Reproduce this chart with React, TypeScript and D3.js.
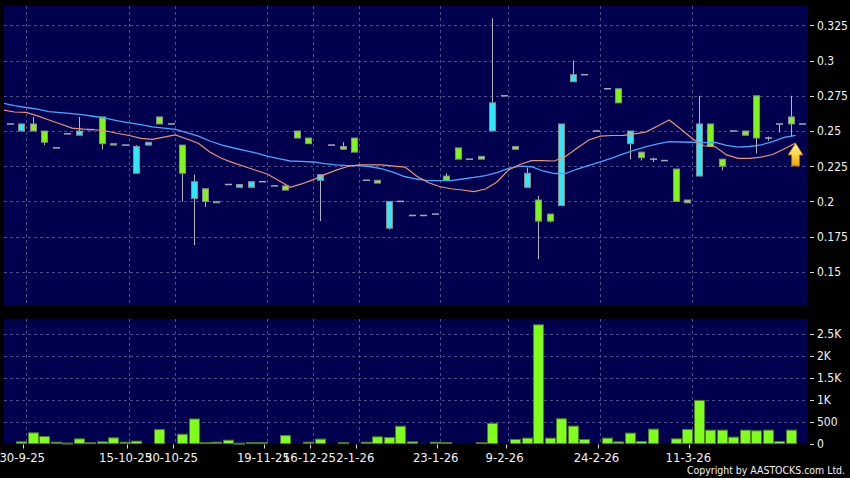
import React from 'react';
import * as d3 from 'd3';

// x axis: slot index of each labelled date
const tickSlots = [1, 10, 14, 22, 26, 30, 37, 43, 51, 59];
const tickLabels = ['30-9-25', '15-10-25', '30-10-25', '19-11-25', '16-12-25', '2-1-26', '23-1-26', '9-2-26', '24-2-26', '11-3-26'];

// daily OHLC, one entry per slot (70 slots)
const opens = [0.255, 0.25, 0.255, 0.25, 0.238, 0.248, 0.247, 0.251, 0.26, 0.241,
  0.24, 0.22, 0.24, 0.26, 0.255, 0.24, 0.202, 0.209, 0.2, 0.212,
  0.21, 0.21, 0.214, 0.211, 0.211, 0.25, 0.245, 0.215, 0.24, 0.239,
  0.245, 0.215, 0.215, 0.181, 0.2, 0.19, 0.19, 0.191, 0.218, 0.238,
  0.23, 0.232, 0.25, 0.275, 0.239, 0.21, 0.201, 0.191, 0.197, 0.285,
  0.29, 0.25, 0.28, 0.28, 0.241, 0.235, 0.23, 0.229, 0.223, 0.201,
  0.218, 0.255, 0.23, 0.25, 0.25, 0.275, 0.245, 0.255, 0.26, 0.255];
const highs = [0.255, 0.255, 0.26, 0.25, 0.238, 0.248, 0.26, 0.251, 0.26, 0.241,
  0.24, 0.24, 0.242, 0.26, 0.255, 0.24, 0.219, 0.209, 0.2, 0.212,
  0.212, 0.214, 0.214, 0.211, 0.211, 0.25, 0.245, 0.219, 0.24, 0.242,
  0.245, 0.215, 0.215, 0.2, 0.2, 0.19, 0.19, 0.191, 0.22, 0.238,
  0.23, 0.232, 0.33, 0.275, 0.239, 0.224, 0.204, 0.191, 0.255, 0.3,
  0.29, 0.25, 0.28, 0.28, 0.25, 0.235, 0.231, 0.229, 0.223, 0.201,
  0.275, 0.255, 0.23, 0.25, 0.25, 0.275, 0.246, 0.255, 0.275, 0.255];
const lows = [0.255, 0.25, 0.25, 0.24, 0.238, 0.248, 0.247, 0.251, 0.237, 0.24,
  0.24, 0.22, 0.24, 0.255, 0.255, 0.2, 0.169, 0.196, 0.199, 0.212,
  0.21, 0.21, 0.214, 0.211, 0.208, 0.245, 0.241, 0.186, 0.24, 0.237,
  0.235, 0.215, 0.213, 0.18, 0.2, 0.19, 0.19, 0.191, 0.215, 0.23,
  0.23, 0.23, 0.25, 0.275, 0.237, 0.21, 0.159, 0.185, 0.197, 0.285,
  0.29, 0.25, 0.28, 0.27, 0.23, 0.229, 0.228, 0.229, 0.2, 0.199,
  0.218, 0.239, 0.222, 0.25, 0.247, 0.234, 0.243, 0.249, 0.246, 0.255];
const closes = [0.255, 0.255, 0.25, 0.242, 0.238, 0.248, 0.25, 0.251, 0.241, 0.24,
  0.24, 0.239, 0.242, 0.255, 0.255, 0.22, 0.214, 0.2, 0.199, 0.212,
  0.212, 0.214, 0.214, 0.211, 0.208, 0.245, 0.241, 0.219, 0.24, 0.237,
  0.235, 0.215, 0.213, 0.2, 0.2, 0.19, 0.19, 0.191, 0.215, 0.23,
  0.23, 0.23, 0.27, 0.275, 0.237, 0.22, 0.186, 0.186, 0.255, 0.29,
  0.29, 0.25, 0.28, 0.27, 0.25, 0.231, 0.23, 0.229, 0.2, 0.199,
  0.255, 0.239, 0.225, 0.25, 0.247, 0.245, 0.245, 0.255, 0.255, 0.255];
const volumes = [0, 38, 243, 159, 30, 10, 106, 20, 38, 129,
  30, 53, 0, 318, 0, 212, 560, 20, 30, 76,
  8, 20, 20, 0, 182, 0, 30, 100, 0, 20,
  0, 30, 152, 136, 394, 38, 0, 30, 20, 0,
  0, 20, 459, 0, 92, 122, 2710, 122, 565, 397,
  92, 0, 122, 38, 237, 46, 328, 0, 107, 320,
  985, 305, 305, 145, 305, 290, 305, 46, 305, 0];

// moving averages as drawn, slots -1 .. 68
const ma10 = [0.2649, 0.2635, 0.2632, 0.2607, 0.2578, 0.255, 0.2521, 0.2514, 0.2509, 0.25,
  0.2482, 0.2468, 0.2448, 0.2441, 0.2457, 0.2472, 0.2443, 0.2413, 0.2351, 0.2306,
  0.2275, 0.2248, 0.2221, 0.2195, 0.2148, 0.21, 0.2124, 0.2155, 0.219, 0.2222,
  0.2248, 0.226, 0.226, 0.2259, 0.2251, 0.2244, 0.218, 0.2134, 0.2106, 0.209,
  0.2081, 0.207, 0.2088, 0.2138, 0.2223, 0.2262, 0.229, 0.2289, 0.2287, 0.232,
  0.2379, 0.2436, 0.2464, 0.2468, 0.2469, 0.2479, 0.2494, 0.2536, 0.2578, 0.2514,
  0.2447, 0.2395, 0.2388, 0.233, 0.2306, 0.2306, 0.2315, 0.2333, 0.2372, 0.2415];
const ma20 = [0.2697, 0.2681, 0.2667, 0.2656, 0.2637, 0.263, 0.2624, 0.2615, 0.2603, 0.2589,
  0.2572, 0.2558, 0.2546, 0.2529, 0.252, 0.2511, 0.2489, 0.2463, 0.2429, 0.2401,
  0.2381, 0.2363, 0.2344, 0.2322, 0.2303, 0.2287, 0.2284, 0.228, 0.2268, 0.226,
  0.2254, 0.2254, 0.2246, 0.2231, 0.2206, 0.2175, 0.2159, 0.2147, 0.2147, 0.2148,
  0.2159, 0.217, 0.2183, 0.2205, 0.2234, 0.225, 0.2246, 0.2216, 0.2198, 0.2199,
  0.223, 0.2256, 0.228, 0.2308, 0.2337, 0.2365, 0.2389, 0.2408, 0.2425, 0.2422,
  0.242, 0.2418, 0.2419, 0.2398, 0.2386, 0.239, 0.2401, 0.2425, 0.2455, 0.2469];

const priceTicks = [0.15, 0.175, 0.2, 0.225, 0.25, 0.275, 0.3, 0.325];
const volumeTicks = [0, 500, 1000, 1500, 2000, 2500];
const volumeTickLabels = ['0', '500', '1K', '1.5K', '2K', '2.5K'];

const W = 850;
const H = 478;
const left = 4;
const right = 807;
const mainTop = 6;
const mainBottom = 305;
const volTop = 319;
const volBottom = 443.5;
const font = "'DejaVu Sans Condensed', 'DejaVu Sans', sans-serif";
const dateFont = "'DejaVu Sans', sans-serif";
const navy = '#00004e';
const gridColor = '#4c4c8c';
const up = '#2ee8f5';
const down = '#7ff51a';

const App: React.FC = () => {
  const x = d3.scaleLinear().domain([-0.5, 69.5]).range([left, right + 1]);
  const y = d3.scaleLinear().domain([0.12642, 0.33878]).range([mainBottom, mainTop]);
  const yv = d3.scaleLinear().domain([0, 2843]).range([volBottom, volTop]);
  const off = 4.8; // grid / average lines sit a little right of the slot centre

  const maLine = d3.line<number>()
    .x((_, k) => x(k - 1) + off)
    .y(d => y(d));

  const last = ma10.length - 1;
  const ax = x(last - 1) + off;
  const ay = y(ma10[last]);

  return (
    <svg width={W} height={H} style={{ position: 'absolute', left: 0, top: 0, background: '#000' }}
      fontFamily={font}>
      <defs>
        <clipPath id="mainClip">
          <rect x={left} y={mainTop} width={right - left} height={mainBottom - mainTop} />
        </clipPath>
        <linearGradient id="arrowFill" x1="0" y1="0" x2="0" y2="1">
          <stop offset="0%" stopColor="#fff6a8" />
          <stop offset="55%" stopColor="#ffd23a" />
          <stop offset="100%" stopColor="#f0a000" />
        </linearGradient>
      </defs>
      <rect x={0} y={0} width={W} height={H} fill="#000" />

      {/* price panel */}
      <rect x={left} y={mainTop} width={right - left} height={mainBottom - mainTop} fill={navy} />
      {priceTicks.map(t => (
        <line key={'pg' + t} x1={left} x2={right} y1={Math.round(y(t)) + 0.5} y2={Math.round(y(t)) + 0.5}
          stroke={gridColor} strokeDasharray="3,3" />
      ))}
      {tickSlots.map(s => (
        <line key={'vg' + s} x1={Math.round(x(s) + off) + 0.5} x2={Math.round(x(s) + off) + 0.5}
          y1={mainTop} y2={mainBottom} stroke={gridColor} strokeDasharray="3,3" />
      ))}

      <g clipPath="url(#mainClip)">
        {opens.map((o, i) => {
          const c = closes[i];
          const cx = Math.round(x(i)) + 0.5;
          const wick = highs[i] > lows[i] ? (
            <line x1={cx} x2={cx} y1={y(highs[i])} y2={y(lows[i])} stroke="#b4b4bc" />
          ) : null;
          if (o === c) {
            return (
              <g key={'c' + i}>
                {wick}
                <line x1={cx - 3.5} x2={cx + 3.5} y1={y(c)} y2={y(c)} stroke="#a8a8b4" strokeWidth={1.5} />
              </g>
            );
          }
          const top = y(Math.max(o, c));
          const bot = y(Math.min(o, c));
          return (
            <g key={'c' + i}>
              {wick}
              <rect x={cx - 3} y={top} width={6} height={Math.max(bot - top, 1)}
                fill={c > o ? up : down} stroke="#8a8a90" strokeWidth={1} />
            </g>
          );
        })}
        <path d={maLine(ma20) || ''} fill="none" stroke="#48a6ff" strokeWidth={1.3} />
        <path d={maLine(ma10) || ''} fill="none" stroke="#ee9272" strokeWidth={1.2} />
      </g>

      <path
        d={`M${ax},${ay} L${ax + 7.5},${ay + 12} L${ax + 4},${ay + 12} L${ax + 4},${ay + 23}
            L${ax - 4},${ay + 23} L${ax - 4},${ay + 12} L${ax - 7.5},${ay + 12} Z`}
        fill="url(#arrowFill)" stroke="#a86a00" strokeWidth={0.8} />

      {priceTicks.map(t => (
        <g key={'pt' + t}>
          <line x1={810} x2={814} y1={Math.round(y(t)) + 0.5} y2={Math.round(y(t)) + 0.5} stroke="#ddd" />
          <text x={817} y={y(t)} dy="0.36em" fontSize={12} fill="#f2f2f2">{t}</text>
        </g>
      ))}

      {/* volume panel */}
      <rect x={left} y={volTop} width={right - left} height={volBottom - volTop} fill={navy} />
      {volumeTicks.slice(1).map(t => (
        <line key={'vgl' + t} x1={left} x2={right} y1={Math.round(yv(t)) + 0.5} y2={Math.round(yv(t)) + 0.5}
          stroke={gridColor} strokeDasharray="3,3" />
      ))}
      {tickSlots.map(s => (
        <line key={'vvg' + s} x1={Math.round(x(s) + off) + 0.5} x2={Math.round(x(s) + off) + 0.5}
          y1={volTop} y2={volBottom} stroke={gridColor} strokeDasharray="3,3" />
      ))}
      {volumes.map((v, i) => v > 0 ? (
        <rect key={'v' + i} x={Math.round(x(i)) - 4.5} y={yv(v)} width={10} height={Math.max(volBottom - yv(v), 1)}
          fill="#80ff1c" stroke="#4c7a2a" strokeWidth={1} />
      ) : null)}
      {volumeTicks.map((t, k) => (
        <g key={'vt' + t}>
          <line x1={810} x2={814} y1={Math.round(yv(t)) + 0.5} y2={Math.round(yv(t)) + 0.5} stroke="#ddd" />
          <text x={817} y={yv(t)} dy="0.36em" fontSize={12} fill="#f2f2f2">{volumeTickLabels[k]}</text>
        </g>
      ))}

      {/* date axis */}
      {tickSlots.map((s, k) => (
        <g key={'dt' + s}>
          <line x1={Math.round(x(s)) + 2.5} x2={Math.round(x(s)) + 2.5} y1={volBottom + 1} y2={volBottom + 5} stroke="#ddd" />
          <text x={x(s) + 1} y={462} textAnchor="middle" fontSize={11.7} fontFamily={dateFont} fill="#f2f2f2">{tickLabels[k]}</text>
        </g>
      ))}
      <text x={845} y={474} textAnchor="end" fontSize={11} fill="#f2f2f2"
        textLength={158} lengthAdjust="spacingAndGlyphs">Copyright by AASTOCKS.com Ltd.</text>
    </svg>
  );
};

export default App;
